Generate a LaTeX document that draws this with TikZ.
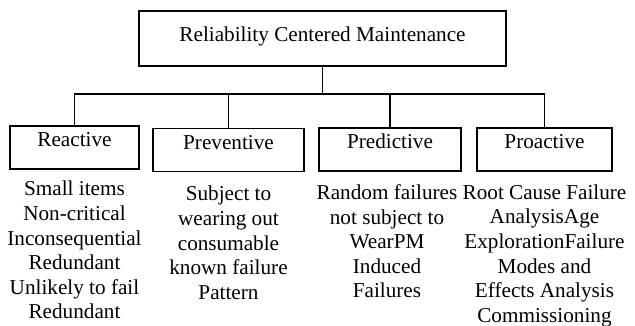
\documentclass[tikz,border=0pt]{standalone}
\usepackage{fontspec}
\setmainfont{Liberation Serif}
\usetikzlibrary{positioning}

\begin{document}
\begin{tikzpicture}[x=1pt, y=-1pt, line width=1.1pt,
    every node/.style={font=\fontsize{21.2}{24.6}\selectfont},
    box/.style={draw, inner sep=0pt, text height=21pt, text depth=22pt},
    desc/.style={align=center, inner sep=0pt, anchor=north}]
  \useasboundingbox (0, 0) rectangle (635, 326);
  \node[draw, inner sep=0pt, minimum width=367pt, text height=30.5pt, text depth=24.5pt]
    (rcm) at (322.5, 38.5) {Reliability Centered Maintenance};
  \node[box, minimum width=129pt] (reactive) at (74.5, 147.5) {Reactive};
  \node[box, minimum width=151pt] (preventive) at (228.5, 150) {Preventive};
  \node[box, minimum width=142pt] (predictive) at (390, 149.5) {Predictive};
  \node[box, minimum width=135pt] (proactive) at (544.5, 149.5) {Proactive};
  \coordinate (bus) at (322.5, 94);
  \draw (rcm) -- (bus);
  \draw (reactive.north) |- (bus) -| (proactive.north);
  \foreach \n in {preventive, predictive}
    \draw (\n.north) -- (\n.north |- bus);
  \node[desc, below=11pt of reactive] (reactivetxt)
    {Small items\\Non-critical\\Inconsequential\\Redundant\\Unlikely to fail\\Redundant};
  \node[desc, below=13.5pt of preventive] (preventivetxt)
    {Subject to\\wearing out\\consumable\\known failure\\Pattern};
  \node[desc, below=12.5pt of predictive, xshift=-3pt] (predictivetxt)
    {Random failures\\not subject to\\WearPM\\Induced\\Failures};
  \node[desc, below=12.5pt of proactive] (proactivetxt)
    {Root Cause Failure\\AnalysisAge\\ExplorationFailure\\Modes and\\Effects Analysis\\Commissioning};
\end{tikzpicture}
\end{document}
